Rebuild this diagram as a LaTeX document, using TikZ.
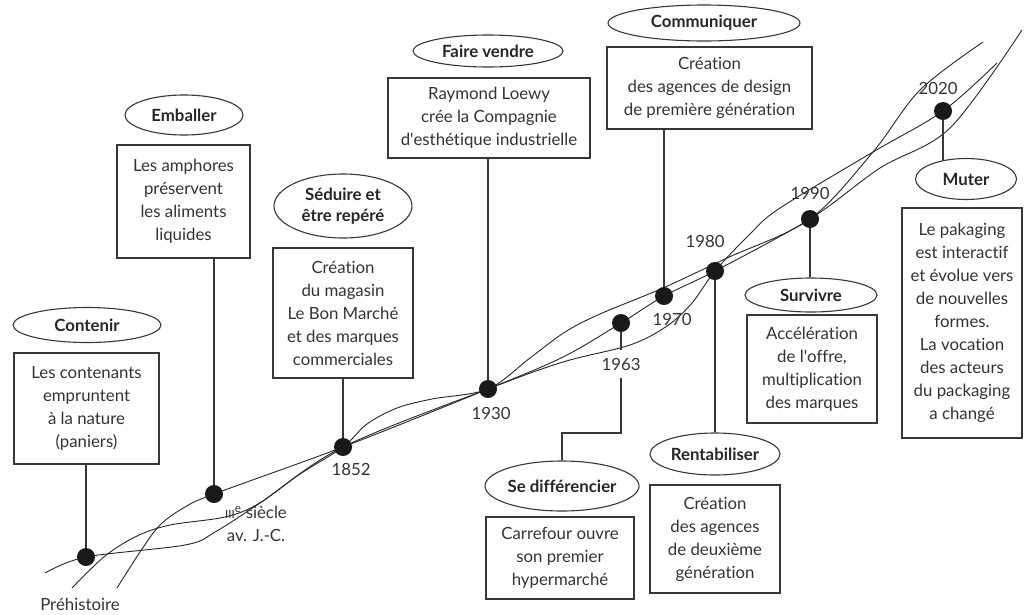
\documentclass[tikz,border=0pt]{standalone}
\usepackage{fontspec}
\setmainfont{Lato}[Ligatures={TeX,NoCommon}]
\usetikzlibrary{shapes.geometric,backgrounds}
\definecolor{txt}{RGB}{55,50,47}
\definecolor{ln}{RGB}{55,55,55}
\begin{document}
\begin{tikzpicture}[x=1pt,y=-1pt,
  every node/.style={text=txt, font=\fontsize{16.8}{23}\selectfont},
  goal/.style={ellipse, draw=ln, line width=1.1pt, inner sep=0pt, text=black!85, align=center,
    font=\fontsize{16.8}{21}\selectfont\bfseries},
  card/.style={rectangle, draw=ln, line width=1.1pt, inner sep=0pt, align=center},
  dot/.style={circle, fill=black!90, inner sep=0pt, minimum size=18pt},
  yr/.style={inner sep=1pt, align=center},
  link/.style={ln, line width=1.1pt},
  wave/.style={black!85, line width=0.9pt},
]
\useasboundingbox (0,0) rectangle (1024,614);

% dots
\node[dot] (dpre) at (86,557) {};
\node[dot] (dIII) at (214,494) {};
\node[dot] (d1852) at (343,447) {};
\node[dot] (d1930) at (488,389) {};
\node[dot] (d1963) at (621,323) {};
\node[dot] (d1970) at (664,296) {};
\node[dot] (d1980) at (715,271) {};
\node[dot] (d1990) at (810,219) {};
\node[dot] (d2020) at (943,111) {};

% year labels
\node[yr] (lpre) at (80,604) {Préhistoire};
\node[yr] (lIII) at (256,524) {{\fontsize{11.5}{11}\selectfont III}\textsuperscript{e} siècle\\av. J.-C.};
\node[yr] (l1852) at (351,469) {1852};
\node[yr] (l1930) at (491,413) {1930};
\node[yr, minimum height=28pt, inner sep=0pt] (l1963) at (621,364) {1963};
\node[yr] (l1970) at (672,319) {1970};
\node[yr] (l1980) at (705,241) {1980};
\node[yr] (l1990) at (810,193) {1990};
\node[yr] (l2020) at (938,88) {2020};

% goals (ellipses)
\node[goal, minimum width=148pt, minimum height=35pt] (contenir) at (87,325) {Contenir};
\node[goal, minimum width=118pt, minimum height=40pt] (emballer) at (184,115) {Emballer};
\node[goal, minimum width=138pt, minimum height=64pt] (seduire) at (343,206) {Séduire et\\être repéré};
\node[goal, minimum width=150pt, minimum height=32pt] (vendre) at (488,51) {Faire vendre};
\node[goal, minimum width=192pt, minimum height=36pt] (comm) at (704,23) {Communiquer};
\node[goal, minimum width=132pt, minimum height=34pt] (survivre) at (811,295) {Survivre};
\node[goal, minimum width=101pt, minimum height=41pt] (muter) at (966,179) {Muter};
\node[goal, minimum width=145pt, minimum height=50pt] (sediff) at (562,486) {Se différencier};
\node[goal, minimum width=130pt, minimum height=42pt] (rent) at (715,454) {Rentabiliser};

% boxes
\node[card, minimum width=145pt, minimum height=111pt] (contbox) at (86.5,408.5)
  {Les contenants\\empruntent\\à la nature\\(paniers)};
\node[card, minimum width=133pt, minimum height=113pt] (embbox) at (183.5,201.5)
  {Les amphores\\préservent\\les aliments\\liquides};
\node[card, minimum width=140pt, minimum height=130pt] (sedbox) at (343,313)
  {Création\\du magasin\\Le Bon Marché\\et des marques\\commerciales};
\node[card, minimum width=202pt, minimum height=80pt] (venbox) at (489,118)
  {Raymond Loewy\\crée la Compagnie\\d\textquotesingle esthétique industrielle};
\node[card, minimum width=205pt, minimum height=82pt] (combox) at (709.5,88)
  {Création\\des agences de design\\de première génération};
\node[card, minimum width=130pt, minimum height=108pt] (survbox) at (812,369)
  {Accélération\\de l\textquotesingle offre,\\multiplication\\des marques};
\node[card, minimum width=120pt, minimum height=230pt] (mutbox) at (962,323)
  {Le pakaging\\est interactif\\et évolue vers\\de nouvelles\\formes.\\La vocation\\des acteurs\\du packaging\\a changé};
\node[card, minimum width=148pt, minimum height=82pt] (diffbox) at (560,558)
  {Carrefour ouvre\\son premier\\hypermarché};
\node[card, minimum width=130pt, minimum height=108pt] (rentbox) at (715,539)
  {Création\\des agences\\de deuxième\\génération};

\coordinate (bend) at (0,433);
\coordinate (mtop) at (943,161);

\begin{scope}[on background layer]
% three weaving curves
\draw[wave] plot[smooth, tension=0.55] coordinates {
  (45,573) (86,557) (185,545) (215,532) (260,503) (343,447) (488,389)
  (563,362) (630,345) (667,326) (692,303) (715,271) (750,234) (780,208)
  (873,152) (943,111) (997,63)};
\draw[wave] plot[smooth, tension=0.55] coordinates {
  (117,588) (140,552) (160,525) (185,507) (214,494) (343,447) (488,389)
  (563,357) (621,323) (664,296) (715,271) (810,219) (880,168) (950,128) (1022,30)};
\draw[wave] plot[smooth, tension=0.55] coordinates {
  (72,588) (105,556) (137,536) (170,525) (225,517) (258,504) (300,474) (343,447)
  (367,424) (397,408) (432,399) (488,389) (530,358) (565,332) (600,314)
  (663,288) (727,258) (810,219) (873,152) (920,90) (983,42)};

% connectors
\draw[link] (contbox.south -| dpre) -- (dpre.center);
\draw[link] (embbox.south -| dIII) -- (dIII.center);
\draw[link] (sedbox.south -| d1852) -- (d1852.center);
\draw[link] (venbox.south -| d1930) -- (d1930.center);
\draw[link] (combox.south -| d1970) -- (d1970.center);
\draw[link] (d1980.center) -- (rent.north -| d1980);
\draw[link] (d1990.center) -- (survivre.north -| d1990);
\draw[link] (d2020.center) -- (mtop);
\draw[link] (d1963.center) -- (l1963.north);
\draw[link] (l1963.south) -- (l1963.south |- bend) -| (sediff.north);
\end{scope}
\end{tikzpicture}
\end{document}
